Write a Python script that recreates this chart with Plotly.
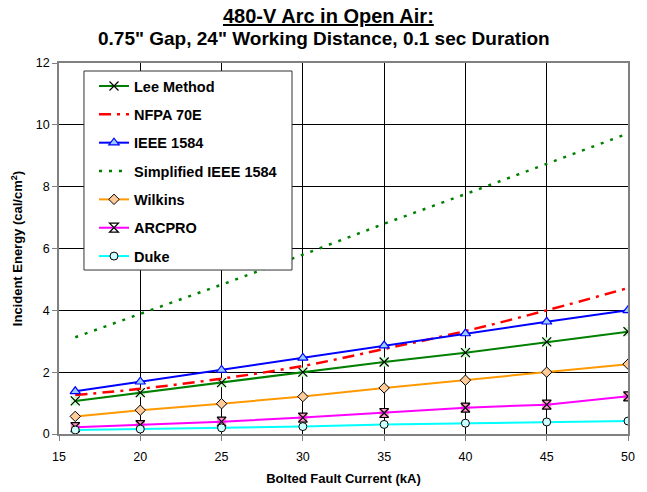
import plotly.graph_objects as go

current_ka = [16, 20, 25, 30, 35, 40, 45, 50]
lee_method = [1.07, 1.34, 1.66, 2.00, 2.33, 2.63, 2.98, 3.31]
nfpa_70e = [1.26, 1.46, 1.79, 2.20, 2.75, 3.33, 4.00, 4.72]
ieee_1584 = [1.38, 1.69, 2.07, 2.46, 2.86, 3.25, 3.63, 4.00]
simplified_ieee = [3.13, 3.88, 4.83, 5.80, 6.80, 7.76, 8.74, 9.72]
wilkins = [0.57, 0.77, 0.98, 1.21, 1.49, 1.74, 2.00, 2.26]
arcpro = [0.22, 0.29, 0.40, 0.53, 0.68, 0.85, 0.95, 1.22]
duke = [0.13, 0.16, 0.20, 0.24, 0.31, 0.35, 0.39, 0.42]

title_line1 = "480-V Arc in Open Air:"
title_line2 = "0.75\" Gap, 24\" Working Distance, 0.1 sec Duration"
x_title = "Bolted Fault Current (kA)"
y_title = "Incident Energy (cal/cm<sup>2</sup>)"

FONT = "Liberation Sans, Arial, sans-serif"

fig = go.Figure()

# background squares for X-type markers
fig.add_trace(go.Scatter(x=current_ka, y=lee_method, mode="markers", showlegend=False,
                         marker=dict(symbol="square", size=9, color="#ccffcc", line=dict(width=0)),
                         hoverinfo="skip"))
fig.add_trace(go.Scatter(x=current_ka, y=arcpro, mode="markers", showlegend=False,
                         marker=dict(symbol="square", size=9, color="#ff99cc", line=dict(width=0)),
                         hoverinfo="skip"))

fig.add_trace(go.Scatter(x=current_ka, y=lee_method, name="Lee Method", mode="lines+markers",
                         legendgroup="a",
                         line=dict(color="#008000", width=2),
                         marker=dict(symbol="x-thin-open", size=9, color="black", line=dict(color="black", width=1.2))))
fig.add_trace(go.Scatter(x=current_ka, y=nfpa_70e, name="NFPA 70E", mode="lines", line_shape="spline",
                         legendgroup="b",
                         line=dict(color="#ff0000", width=2.5, dash="12px,6px,3px,6px")))
fig.add_trace(go.Scatter(x=current_ka, y=ieee_1584, name="IEEE 1584", mode="lines+markers",
                         legendgroup="c",
                         line=dict(color="#0000ff", width=2),
                         marker=dict(symbol="triangle-up", size=9, color="#99ccff", line=dict(color="#0000ff", width=1.2))))
fig.add_trace(go.Scatter(x=current_ka, y=simplified_ieee, name="Simplified IEEE 1584", mode="lines",
                         legendgroup="d",
                         line=dict(color="#008000", width=2.5, dash="3px,7px")))
fig.add_trace(go.Scatter(x=current_ka, y=wilkins, name="Wilkins", mode="lines+markers",
                         legendgroup="e",
                         line=dict(color="#ff9900", width=2),
                         marker=dict(symbol="diamond", size=8, color="#ffcc99", line=dict(color="black", width=1))))
fig.add_trace(go.Scatter(x=current_ka, y=arcpro, name="ARCPRO", mode="lines+markers",
                         legendgroup="f",
                         line=dict(color="#ff00ff", width=2),
                         marker=dict(symbol="hourglass-open", size=9, color="black", line=dict(color="black", width=1.2))))
fig.add_trace(go.Scatter(x=current_ka, y=duke, name="Duke", mode="lines+markers",
                         legendgroup="g",
                         line=dict(color="#00ffff", width=2),
                         marker=dict(symbol="circle", size=8, color="#ccffff", line=dict(color="black", width=1))))

fig.update_layout(
    width=639, height=484,
    margin=dict(l=51, r=19, t=55, b=58, autoexpand=False),
    paper_bgcolor="white", plot_bgcolor="white",
    font=dict(family=FONT, color="black"),
    showlegend=True,
    legend=dict(x=0.0615, y=0.981, xanchor="left", yanchor="top",
                bgcolor="rgba(0,0,0,0)", borderwidth=0,
                font=dict(family=FONT, size=14.5, color="black", weight="bold"),
                traceorder="grouped", tracegroupgap=6.5),
    shapes=[dict(type="rect", xref="paper", yref="paper", x0=0.0439, x1=0.4095, y0=0.442, y1=0.9784,
                 line=dict(color="#333333", width=1), fillcolor="white", layer="above")],
    annotations=[
        dict(text="<u>" + title_line1 + "</u>", xref="paper", yref="paper", x=0.4745, y=1.127,
             xanchor="center", yanchor="middle", showarrow=False,
             font=dict(family=FONT, size=20, color="black", weight="bold")),
        dict(text=title_line2, xref="paper", yref="paper", x=0.4657, y=1.066,
             xanchor="center", yanchor="middle", showarrow=False,
             font=dict(family=FONT, size=19, color="black", weight="bold")),
    ],
)

fig.update_xaxes(range=[15, 50], dtick=5, tick0=15, showgrid=True, gridcolor="black", gridwidth=1,
                 showline=True, linecolor="#808080", linewidth=1.5, mirror=True,
                 ticks="outside", ticklen=5, tickcolor="#808080",
                 tickfont=dict(family=FONT, size=12.5), ticklabelstandoff=5,
                 title=dict(text=x_title, font=dict(family=FONT, size=13, weight="bold"), standoff=11),
                 zeroline=False)
fig.update_yaxes(range=[0, 12], dtick=2, showgrid=True, gridcolor="black", gridwidth=1,
                 showline=True, linecolor="#808080", linewidth=1.5, mirror=True,
                 ticks="outside", ticklen=5, tickcolor="#808080",
                 tickfont=dict(family=FONT, size=12.5),
                 title=dict(text=y_title, font=dict(family=FONT, size=13, weight="bold"), standoff=10),
                 zeroline=False)

fig.write_html("out.html")
